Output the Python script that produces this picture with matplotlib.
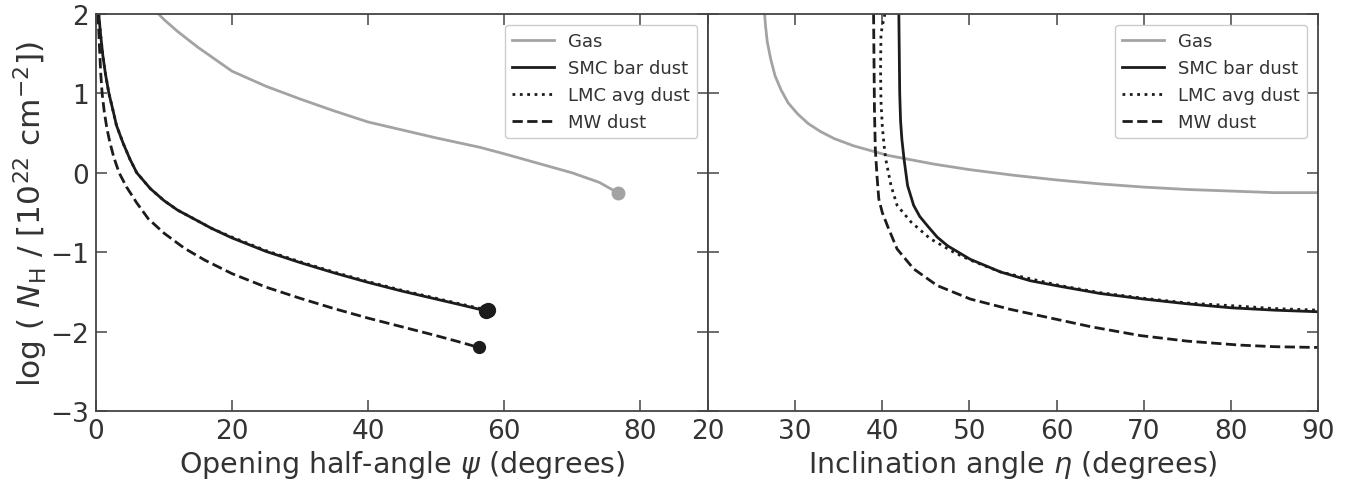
import numpy as np
import matplotlib
matplotlib.use('Agg')
import matplotlib.pyplot as plt

plt.rcParams['font.family'] = 'DejaVu Sans'
plt.rcParams['mathtext.fontset'] = 'dejavusans'

# left panel: column density vs opening half-angle psi
psi_gas = [9.2, 10, 12, 15, 20, 25, 30, 35, 40, 45, 50, 56.5, 60, 65, 70, 74, 76.7]
nh_gas_psi = [2.0, 1.93, 1.78, 1.58, 1.28, 1.09, 0.93, 0.78, 0.64, 0.54, 0.44, 0.32, 0.24, 0.12, 0.0, -0.12, -0.25]

psi_smc = [0.4, 0.7, 1.0, 1.4, 1.9, 2.6, 3.0, 4.0, 5.0, 6.0, 8, 10, 12, 14.4, 17, 20, 25, 30, 35, 40, 45, 50, 54, 57.4]
nh_smc_psi = [2.0, 1.72, 1.48, 1.24, 1.0, 0.75, 0.6, 0.37, 0.17, 0.0, -0.2, -0.35, -0.47, -0.58, -0.7, -0.82, -0.99, -1.13, -1.26, -1.38, -1.49, -1.59, -1.67, -1.74]

psi_lmc = [0.4, 0.7, 1.0, 1.4, 1.9, 2.6, 3.0, 4.0, 5.0, 6.0, 8, 10, 12, 14.4, 17, 20, 25, 30, 35, 40, 45, 50, 54, 57.6]
nh_lmc_psi = [2.0, 1.72, 1.48, 1.24, 1.0, 0.75, 0.6, 0.37, 0.17, 0.0, -0.2, -0.35, -0.47, -0.58, -0.7, -0.81, -0.98, -1.12, -1.25, -1.37, -1.48, -1.58, -1.66, -1.73]

psi_mw = [0.3, 0.5, 0.7, 0.9, 1.2, 1.6, 2.0, 2.6, 3.4, 4.5, 6, 7.7, 10, 13, 16, 20, 25, 30, 35, 40, 45, 50, 53, 56.3]
nh_mw_psi = [2.0, 1.6, 1.25, 1.0, 0.78, 0.56, 0.4, 0.2, 0.0, -0.18, -0.38, -0.58, -0.76, -0.95, -1.1, -1.27, -1.44, -1.58, -1.71, -1.83, -1.94, -2.05, -2.12, -2.2]

# right panel: column density vs inclination angle eta
eta_gas = [26.5, 26.6, 26.8, 27.2, 27.7, 28.4, 29.2, 30.3, 31.5, 32.9, 34.5, 36.7, 40.6, 45.9, 50, 55, 60, 65, 70, 75, 80, 85, 90]
nh_gas_eta = [2.0, 1.85, 1.65, 1.43, 1.22, 1.04, 0.88, 0.74, 0.62, 0.52, 0.43, 0.34, 0.22, 0.11, 0.04, -0.03, -0.09, -0.14, -0.18, -0.21, -0.23, -0.25, -0.25]

eta_smc = [41.9, 41.95, 42.0, 42.1, 42.25, 42.5, 42.9, 43.6, 44.3, 45.2, 46.3, 47.5, 50.1, 53.6, 57.0, 60.4, 65, 70, 75, 80, 85, 90]
nh_smc_eta = [2.0, 1.5, 1.0, 0.65, 0.42, 0.17, -0.16, -0.41, -0.55, -0.67, -0.81, -0.92, -1.09, -1.25, -1.36, -1.43, -1.52, -1.59, -1.65, -1.70, -1.73, -1.75]

eta_lmc = [40.3, 40.1, 39.85, 39.8, 39.85, 40.0, 40.2, 40.4, 41.0, 41.7, 43.3, 45.5, 48.2, 50.1, 53.6, 60.4, 65, 70, 75, 81, 85, 90]
nh_lmc_eta = [2.0, 1.9, 1.75, 1.3, 0.9, 0.59, 0.35, 0.17, -0.16, -0.41, -0.62, -0.83, -1.0, -1.1, -1.25, -1.42, -1.51, -1.58, -1.64, -1.68, -1.71, -1.73]

eta_mw = [39.0, 39.05, 39.1, 39.2, 39.4, 39.6, 40.0, 40.6, 41.7, 43.6, 46.3, 50.1, 54.7, 58.5, 64, 69.6, 75, 81, 85, 90]
nh_mw_eta = [2.0, 1.4, 0.8, 0.3, -0.05, -0.33, -0.5, -0.67, -0.96, -1.21, -1.42, -1.59, -1.72, -1.81, -1.94, -2.05, -2.12, -2.17, -2.19, -2.2]

gray = '#a3a3a3'
dark = '#1c1c1c'
spine_col = '#444444'
txt_col = '#333333'

fig = plt.figure(figsize=(13.61, 4.85), dpi=100)
axL = fig.add_axes([96/1361, 73/485, 612/1361, 397/485])
axR = fig.add_axes([708/1361, 73/485, 610/1361, 397/485])

def style(ax):
	for s in ax.spines.values():
		s.set_color(spine_col)
		s.set_linewidth(1.3)
	ax.tick_params(direction='in', length=8, width=1.1, color=spine_col,
		top=True, right=True, labelsize=19, labelcolor=txt_col, pad=5)
	ax.set_ylim(-3, 2)

# left
axL.plot(psi_gas, nh_gas_psi, color=gray, lw=2, label='Gas')
axL.plot(psi_smc, nh_smc_psi, color=dark, lw=2, label='SMC bar dust')
axL.plot(psi_lmc, nh_lmc_psi, color=dark, lw=2, ls=':', label='LMC avg dust')
axL.plot(psi_mw, nh_mw_psi, color=dark, lw=2, ls='--', label='MW dust')
axL.plot(psi_gas[-1], nh_gas_psi[-1], 'o', color=gray, ms=9)
axL.plot(psi_lmc[-1], nh_lmc_psi[-1], 'o', color=dark, ms=10)
axL.plot(psi_smc[-1], nh_smc_psi[-1], 'o', color=dark, ms=10)
axL.plot(psi_mw[-1], nh_mw_psi[-1], 'o', color=dark, ms=8.5)
axL.set_xlim(0, 90)
axL.set_xticks([0, 20, 40, 60, 80])
axL.set_yticks([-3, -2, -1, 0, 1, 2])
style(axL)
axL.set_xlabel(r'Opening half-angle $\psi$ (degrees)', fontsize=20.5, color=txt_col, labelpad=3)
axL.set_ylabel(r'log ( $N_{\rm H}$ / [10$^{22}$ cm$^{-2}$])', fontsize=22.5, color=txt_col, labelpad=0)

# right
axR.plot(eta_gas, nh_gas_eta, color=gray, lw=2, label='Gas')
axR.plot(eta_smc, nh_smc_eta, color=dark, lw=2, label='SMC bar dust')
axR.plot(eta_lmc, nh_lmc_eta, color=dark, lw=2, ls=':', label='LMC avg dust')
axR.plot(eta_mw, nh_mw_eta, color=dark, lw=2, ls='--', label='MW dust')
axR.set_xlim(20, 90)
axR.set_xticks([20, 30, 40, 50, 60, 70, 80, 90])
axR.set_yticks([-3, -2, -1, 0, 1, 2])
style(axR)
axR.tick_params(labelleft=False)
axR.set_xlabel(r'Inclination angle $\eta$ (degrees)', fontsize=20.5, color=txt_col, labelpad=3)

for ax in (axL, axR):
	leg = ax.legend(loc='upper right', fontsize=13, handlelength=2.3, borderaxespad=0.6,
		labelspacing=0.5, fancybox=True, framealpha=1)
	leg.get_frame().set_edgecolor('#cccccc')
	for t in leg.get_texts():
		t.set_color(txt_col)

fig.savefig('out.png', dpi=100)
